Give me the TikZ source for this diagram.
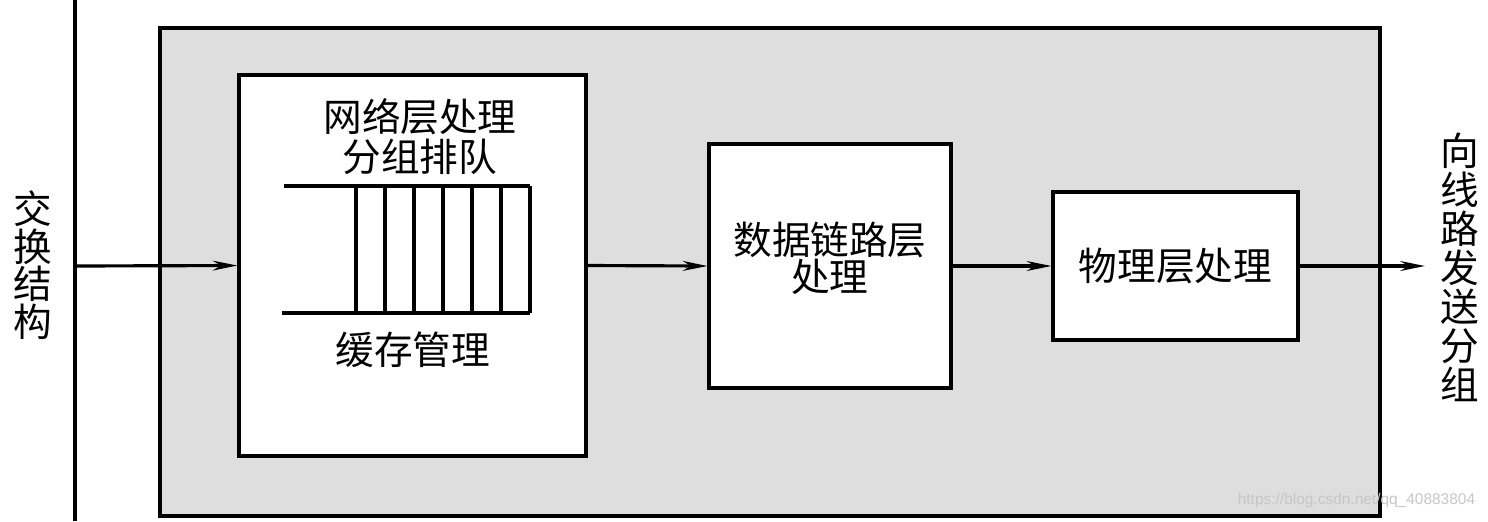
\documentclass[tikz,border=0pt]{standalone}
\usepackage{fontspec}
\setmainfont{Noto Sans CJK SC}
\newfontfamily\markfont{Liberation Sans}
\usepackage{tikz}
\usetikzlibrary{positioning,arrows.meta,calc}
\usepackage{xcolor}
\definecolor{panelgray}{HTML}{DEDEDE}

\tikzset{
    layerbox/.style={draw, line width=0.9pt, fill=white, align=center, inner sep=0pt},
    flow/.style={-{Stealth[length=7pt, width=2.8pt]}, line width=0.9pt},
    cjk/.style={font=\fontsize{11pt}{11.4pt}\selectfont}
}

\begin{document}
\begin{tikzpicture}[cjk]
    \useasboundingbox (0,0) rectangle (14.88,5.21);

    % Switch fabric bus on the left
    \coordinate (busTop) at (0.75,5.21);
    \coordinate (busBot) at (0.75,0);
    \coordinate (busIn) at (0.75,2.55);
    \draw[line width=0.9pt] (busTop) -- (busBot);
    \node (fabric) at (0.33,2.56) [align=center, font=\fontsize{11pt}{10.7pt}\selectfont] {交\\换\\结\\构};

    % Gray port panel
    \node (panel) at (7.70,2.49) [draw, line width=0.9pt, fill=panelgray, minimum width=12.2cm, minimum height=4.88cm] {};

    % Layer boxes
    \node (netbox) at (4.125,2.555) [layerbox, minimum width=3.47cm, minimum height=3.81cm] {};
    \node (linkbox) at (8.30,2.55) [layerbox, minimum width=2.42cm, minimum height=2.44cm] {};
    \node (linktext) at (8.30,2.63) [align=center, font=\fontsize{11pt}{10.6pt}\selectfont] {数据链路层\\处理};
    \node (phybox) at (11.755,2.55) [layerbox, minimum width=2.45cm, minimum height=1.48cm] {物理层处理};

    % Queue inside the network layer box
    \node (nettitle) at (4.20,3.84) [align=center] {网络层处理\\分组排队};
    \draw[line width=0.9pt] (2.84,3.35) -- (5.30,3.35);
    \draw[line width=0.9pt] (2.82,2.08) -- (5.30,2.08);
    \foreach \i in {0,...,6}
        \draw[line width=0.9pt] ({3.56+0.29*\i},3.35) -- ({3.56+0.29*\i},2.08);
    \node (bufmgmt) at (4.13,1.71) {缓存管理};

    % Packet flow
    \coordinate (outEnd) at (14.25,2.55);
    \draw[flow] (busIn) -- (netbox.west);
    \draw[flow] (netbox.east) -- (linkbox.west);
    \draw[flow] (linkbox.east) -- (phybox.west);
    \draw[flow] (phybox.east) -- (outEnd);
    \node (toline) at (14.60,2.535) [align=center, font=\fontsize{11pt}{11.1pt}\selectfont] {向\\线\\路\\发\\送\\分\\组};

    % Source watermark
    \node (mark) at (13.565,0.21) [font=\markfont\fontsize{4.4pt}{4.4pt}\selectfont, text=gray!45, inner sep=0pt] {https://blog.csdn.net/qq\_40883804};
\end{tikzpicture}
\end{document}
